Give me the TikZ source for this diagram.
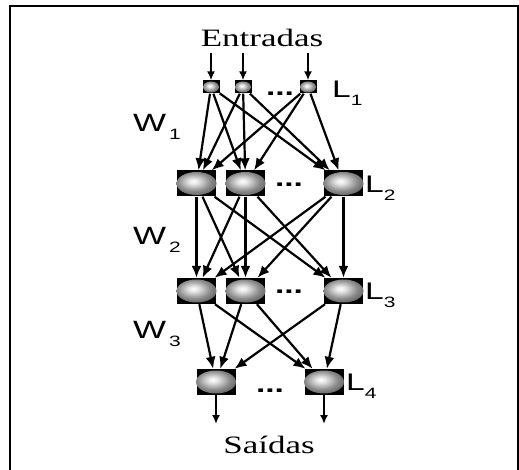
\documentclass[tikz,border=0pt]{standalone}
\usepackage{graphicx}
\usepackage{fontspec}
\setmainfont{Liberation Serif}
\newfontfamily\arialf{Liberation Sans}
\usetikzlibrary{arrows.meta}
\pgfdeclareradialshading{neuronball}{\pgfpoint{-4bp}{5bp}}{color(0bp)=(white); color(6bp)=(white!90!black); color(20bp)=(black!45); color(34bp)=(black!68); color(46bp)=(black!88); color(100bp)=(black!88)}
\newcommand\xs[1]{\scalebox{1.4}[1]{#1}}
\newcommand\subx[1]{\raisebox{-8pt}{\fontsize{15}{15}\selectfont #1}}
\tikzset{
  unitbox/.style={rectangle, fill=black, inner sep=0pt, minimum width=39pt, minimum height=26pt},
  unitsmall/.style={rectangle, fill=black, inner sep=0pt, minimum width=17pt, minimum height=13pt},
  conn/.style={line width=2.2pt, -{Latex[length=12pt,width=10pt]}},
  io/.style={line width=1.7pt, -{Latex[length=9pt,width=8pt]}},
  ballshade/.style={shading=neuronball},
  lbl/.style={font=\arialf\fontsize{24}{24}\selectfont, inner sep=0pt, anchor=base west},
  wlbl/.style={font=\arialf\fontsize{25}{25}\selectfont, inner sep=0pt, anchor=base west},
  dots/.style={font=\arialf\bfseries\fontsize{24}{24}\selectfont, inner sep=0pt, anchor=base},
  title/.style={font=\fontsize{25}{25}\selectfont, inner sep=0pt, anchor=base},
}
\begin{document}
\begin{tikzpicture}[x=1pt,y=-1pt]
\useasboundingbox (0,0) rectangle (519,470);
% frame
\draw[line width=2pt] (10,471) -- (10,6) -- (518,6) -- (518,471);

% layer 1
\node[unitsmall] (a1) at (211,87) {};
\node[unitsmall] (a2) at (243,87) {};
\node[unitsmall] (a3) at (308,87) {};
% layer 2
\node[unitbox] (b1) at (196.5,183.5) {};
\node[unitbox] (b2) at (245.5,183.5) {};
\node[unitbox] (b3) at (343.5,183.5) {};
% layer 3
\node[unitbox] (c1) at (196.5,291) {};
\node[unitbox] (c2) at (245.5,291) {};
\node[unitbox] (c3) at (343.5,291) {};
% layer 4
\node[unitbox] (d1) at (216,382) {};
\node[unitbox] (d2) at (324,382) {};

\foreach \n in {a1,a2,a3}
  \shade[ballshade] (\n.center) ellipse (8 and 5.5);
\foreach \n in {b1,b2,b3,c1,c2,c3,d1,d2}
  \shade[ballshade] (\n.center) ellipse (20 and 11.5);

% connections
\foreach \s in {a1,a2,a3}
  \foreach \t in {b1,b2,b3}
    \draw[conn] (\s) -- (\t);
\foreach \s in {b1,b2,b3}
  \foreach \t in {c1,c2,c3}
    \draw[conn] (\s) -- (\t);
\foreach \s in {c1,c2,c3}
  \foreach \t in {d1,d2}
    \draw[conn] (\s) -- (\t);

% inputs / outputs
\coordinate (i1) at (211,53);
\coordinate (i2) at (243,53);
\coordinate (i3) at (308,53);
\draw[io] (i1) -- (a1);
\draw[io] (i2) -- (a2);
\draw[io] (i3) -- (a3);
\coordinate (o1) at (216,424);
\coordinate (o2) at (324,424);
\draw[io] (d1) -- (o1);
\draw[io] (d2) -- (o2);

% texts
\node[title] (tin) at (262,47) {\xs{Entradas}};
\node[title] (tout) at (269,453) {\xs{Saídas}};

\node[dots] (p1) at (280,96) {\xs{...}};
\node[dots] (p2) at (289,187) {\xs{...}};
\node[dots] (p3) at (289,294) {\xs{...}};
\node[dots] (p4) at (270,392) {\xs{...}};

\node[lbl] (l1) at (332,98) {\xs{L\subx{1}}};
\node[lbl] (l2) at (365,193) {\xs{L\subx{2}}};
\node[lbl] (l3) at (365,299) {\xs{L\subx{3}}};
\node[lbl] (l4) at (346,390) {\xs{L\subx{4}}};

\node[wlbl] (w1) at (133,132) {\xs{W\hspace{2pt}\subx{1}}};
\node[wlbl] (w2) at (133,245) {\xs{W\hspace{2pt}\subx{2}}};
\node[wlbl] (w3) at (133,338) {\xs{W\hspace{2pt}\subx{3}}};
\end{tikzpicture}
\end{document}
